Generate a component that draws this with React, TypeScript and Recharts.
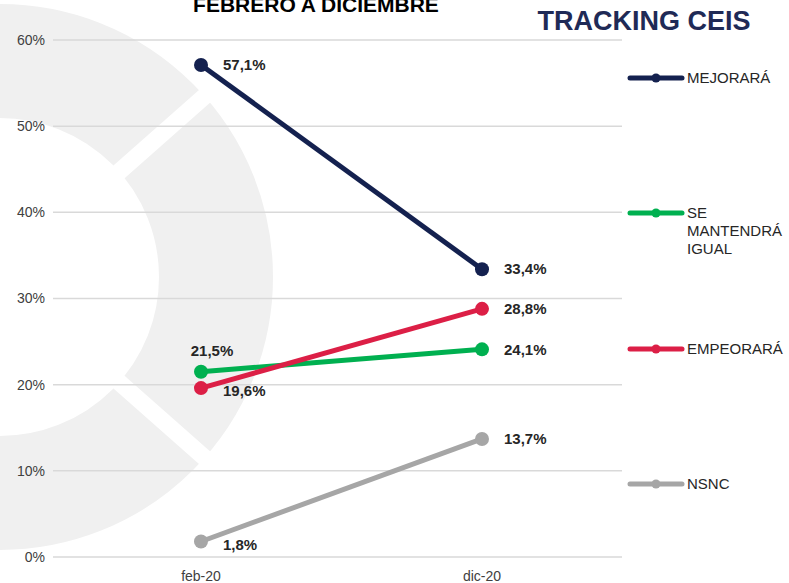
import React from 'react'
import { LineChart, Line, XAxis, YAxis, CartesianGrid, LabelList } from 'recharts'

// Tracking CEIS: feb-20 vs dic-20
const periods = ['feb-20', 'dic-20']
const mejorara = [57.1, 33.4]
const mantendra = [21.5, 24.1]
const empeorara = [19.6, 28.8]
const nsnc = [1.8, 13.7]
const yTicks = [0, 10, 20, 30, 40, 50, 60]

const seriesKeys = ['mejorara', 'mantendra', 'empeorara', 'nsnc']
const seriesNames = ['MEJORARÁ', 'SE MANTENDRÁ IGUAL', 'EMPEORARÁ', 'NSNC']
const seriesColors = ['#14214f', '#00b050', '#dc1f46', '#a6a6a6']

const data = periods.map((p, i) => ({
  period: p,
  mejorara: mejorara[i],
  mantendra: mantendra[i],
  empeorara: empeorara[i],
  nsnc: nsnc[i],
}))

const FONT = '"Liberation Sans", Arial, sans-serif'
const fmt = (v: number) => v.toFixed(1).replace('.', ',') + '%'

// label placement per series: green first point sits above, others to the right
const makeLabel = (key: string) => (props: any) => {
  const x = props.viewBox?.x ?? props.x
  const y = props.viewBox?.y ?? props.y
  const { value, index } = props
  if (x == null || y == null) return null
  const style = { fontFamily: FONT, fontSize: 15, fontWeight: 700, fill: '#262626' }
  if (key === 'mantendra' && index === 0) {
    return (
      <text x={x + 11} y={y - 21} dy="0.35em" textAnchor="middle" style={style}>
        {fmt(value)}
      </text>
    )
  }
  const dy = index === 0 && (key === 'empeorara' || key === 'nsnc') ? 3 : 0
  return (
    <text x={x + 22} y={y + dy} dy="0.35em" textAnchor="start" style={style}>
      {fmt(value)}
    </text>
  )
}

const legendRows = [78, 213, 349, 484]

const Watermark = () => (
  <svg width={789} height={583} style={{ position: 'absolute', left: 0, top: 0 }}>
    <circle cx={0} cy={277} r={216} fill="none" stroke="#f0f0f0" strokeWidth={114} />
    <line x1={0} y1={277} x2={240} y2={65} stroke="#fff" strokeWidth={17} />
    <line x1={0} y1={277} x2={240} y2={489} stroke="#fff" strokeWidth={17} />
  </svg>
)

const Overlay = () => (
  <svg width={789} height={583} style={{ position: 'absolute', left: 0, top: 0, pointerEvents: 'none' }}>
    <text x={316} y={12} textAnchor="middle" style={{ fontFamily: FONT, fontSize: 21, fontWeight: 700, fill: '#000' }}>
      FEBRERO A DICIEMBRE
    </text>
    <text x={644} y={30} textAnchor="middle" style={{ fontFamily: FONT, fontSize: 27, fontWeight: 700, fill: '#1f2a56' }}>
      TRACKING CEIS
    </text>
    {seriesNames.map((name, i) => {
      const y = legendRows[i]
      const lines = name === 'SE MANTENDRÁ IGUAL' ? ['SE', 'MANTENDRÁ', 'IGUAL'] : [name]
      return (
        <g key={name}>
          <line x1={630} y1={y} x2={682} y2={y} stroke={seriesColors[i]} strokeWidth={5} strokeLinecap="round" />
          <circle cx={656} cy={y} r={4.5} fill={seriesColors[i]} />
          <text x={687} y={y} style={{ fontFamily: FONT, fontSize: 15, fill: '#262626' }}>
            {lines.map((l, j) => (
              <tspan key={l} x={687} dy={j === 0 ? '0.35em' : 18}>
                {l}
              </tspan>
            ))}
          </text>
        </g>
      )
    })}
  </svg>
)

export default function App() {
  return (
    <div style={{ position: 'absolute', left: 0, top: 0, width: 789, height: 583, background: '#fff', overflow: 'hidden' }}>
      <Watermark />
      <div style={{ position: 'absolute', left: 0, top: 0 }}>
        <LineChart width={789} height={583} data={data} margin={{ top: 40, right: 167, bottom: 0, left: 8 }}>
          <CartesianGrid vertical={false} stroke="#d9d9d9" strokeWidth={1.5} />
          <XAxis
            dataKey="period"
            height={26}
            axisLine={false}
            tickLine={false}
            tickSize={0}
            tickMargin={14}
            padding={{ left: 148, right: 140 }}
            tick={{ fontFamily: FONT, fontSize: 14, fill: '#404040' }}
          />
          <YAxis
            domain={[0, 60]}
            ticks={yTicks}
            width={45}
            axisLine={false}
            tickLine={false}
            tickSize={0}
            tickMargin={8}
            tickFormatter={(v: number) => `${v}%`}
            tick={{ fontFamily: FONT, fontSize: 14, fill: '#404040' }}
          />
          {seriesKeys.map((key, i) => (
            <Line
              key={key}
              type="linear"
              dataKey={key}
              name={seriesNames[i]}
              stroke={seriesColors[i]}
              strokeWidth={5}
              dot={{ r: 7, fill: seriesColors[i], stroke: seriesColors[i], strokeWidth: 0 }}
              activeDot={false}
              isAnimationActive={false}
            >
              <LabelList dataKey={key} content={makeLabel(key)} />
            </Line>
          ))}
        </LineChart>
      </div>
      <Overlay />
    </div>
  )
}
